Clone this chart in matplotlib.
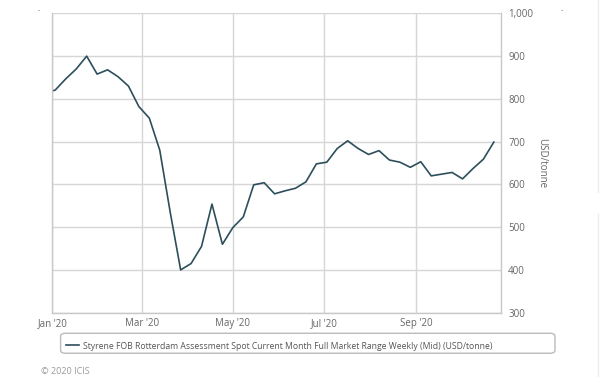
import pandas as pd
import matplotlib
matplotlib.use("Agg")
import matplotlib.pyplot as plt
import matplotlib.dates as mdates
from matplotlib.patches import FancyBboxPatch
from matplotlib.lines import Line2D

plt.rcParams['font.family'] = ['Open Sans', 'DejaVu Sans']

# weekly assessment dates (Fridays) and mid prices, USD/tonne
dates = pd.date_range("2019-12-27", "2020-10-23", freq="7D")
prices = [812, 821, 847, 870, 900, 858, 868, 852, 830, 782,
          755, 680, 535, 400, 415, 455, 554, 460, 499, 524,
          599, 604, 578, 585, 591, 606, 648, 652, 684, 702,
          684, 670, 679, 657, 652, 640, 653, 620, 624, 628,
          613, 637, 659, 699]
series_label = ("Styrene FOB Rotterdam Assessment Spot Current Month "
                "Full Market Range Weekly (Mid) (USD/tonne)")
month_ticks = pd.to_datetime(["2020-01-01", "2020-03-01", "2020-05-01",
                              "2020-07-01", "2020-09-01"])
y_ticks = [300, 400, 500, 600, 700, 800, 900, 1000]

line_col = "#2c4f5b"
grid_col = "#d6d6d6"
text_col = "#666666"

fig = plt.figure(figsize=(6.0, 3.77), dpi=100)
ax = fig.add_axes([0.0873, 0.1706, 0.7482, 0.7939])

ln, = ax.plot(dates, prices, color=line_col, lw=1.2, label=series_label)

ax.set_xlim(pd.Timestamp("2020-01-01"), pd.Timestamp("2020-10-28"))
ax.set_ylim(300, 1000)
ax.set_xticks(month_ticks)
ax.xaxis.set_major_formatter(mdates.DateFormatter("%b '%y"))
ax.set_yticks(y_ticks)
ax.yaxis.set_major_formatter(matplotlib.ticker.FuncFormatter(lambda v, p: f"{int(v):,}"))
ax.yaxis.tick_right()
ax.yaxis.set_label_position("right")
ax.tick_params(axis="both", length=0, labelsize=7, labelcolor=text_col)
ax.tick_params(axis="y", pad=5)
ax.tick_params(axis="x", pad=4)
ax.grid(True, color=grid_col, lw=1.0)
ax.set_axisbelow(True)
for s in ["left", "bottom", "right"]:
    ax.spines[s].set_color("#c8c8c8")
    ax.spines[s].set_linewidth(1.0)
ax.spines["top"].set_visible(False)
ax.set_ylabel("USD/tonne", rotation=270, fontsize=7, color=text_col, labelpad=10)

# legend with a wide rounded box like the original
leg = fig.legend(handles=[ln], loc="center left", bbox_to_anchor=(0.104, 0.0822),
                 frameon=False, fontsize=6.2, handlelength=1.5, handletextpad=0.5,
                 labelcolor="#555555", borderaxespad=0)
box = FancyBboxPatch((0.101, 0.063), 0.824, 0.053, transform=fig.transFigure,
                     boxstyle="round,pad=0,rounding_size=0.008", fc="none",
                     ec="#bbbbbb", lw=1.0)
fig.patches.append(box)

fig.text(0.068, 0.008, "\u00a9 2020 ICIS", fontsize=6.5, color="#999999")

# stray screenshot artefacts
fig.text(0.062, 0.985, ".", fontsize=6, color="#333333", va="top")
fig.text(0.934, 0.985, ".", fontsize=6, color="#333333", va="top")
fig.lines.append(Line2D([0.996, 0.996], [1.0, 0.49], transform=fig.transFigure, color="#eeeeee", lw=1))
fig.lines.append(Line2D([0.996, 0.996], [0.435, 0.0], transform=fig.transFigure, color="#eeeeee", lw=1))

fig.savefig("out.png", dpi=100)
